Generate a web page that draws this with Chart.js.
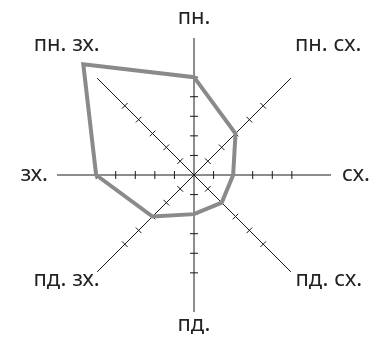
<!DOCTYPE html>
<html>
<head>
<meta charset="utf-8">
<script src="https://cdn.jsdelivr.net/npm/chart.js@4/dist/chart.umd.min.js"></script>
<style>
  html, body { margin: 0; padding: 0; background: #fff; }
  #wrap { width: 381px; height: 340px; }
</style>
</head>
<body>
<div id="wrap"><canvas id="windChart" width="381" height="340"></canvas></div>
<script>
// directions, clockwise from the top
const directions = ['пн.', 'пн. сх.', 'сх.', 'пд. сх.', 'пд.', 'пд. зх.', 'зх.', 'пн. зх.'];
const windValues = [5, 3, 2, 2, 2, 3, 5, 8];
const tickValues = [1, 2, 3, 4, 5];
const scaleMax = 7;

// label placement tweaks (padding and line height per direction)
const labelPad = [7, 5.8, 11, 6.5, 2.7, -3.5, 9, -3.5];
const labelLead = [26, 59.2, 26, 7.4, 20, 21.2, 26, 72.4];

const axisColor = '#1a1a1a';

// small cross ticks on every axis
const axisTicks = {
  id: 'axisTicks',
  beforeDatasetsDraw(chart) {
    const r = chart.scales.r;
    const ctx = chart.ctx;
    ctx.save();
    ctx.strokeStyle = axisColor;
    ctx.lineWidth = 1;
    directions.forEach((_, i) => {
      const a = r.getIndexAngle(i);
      const dx = Math.cos(a), dy = Math.sin(a);
      tickValues.forEach(v => {
        const p = r.getPointPositionForValue(i, v);
        ctx.beginPath();
        ctx.moveTo(p.x - dx * 4, p.y - dy * 4);
        ctx.lineTo(p.x + dx * 4, p.y + dy * 4);
        ctx.stroke();
      });
    });
    ctx.restore();
  }
};

const ctx = document.getElementById('windChart').getContext('2d');
const windChart = new Chart(ctx, {
  type: 'radar',
  data: {
    labels: directions,
    datasets: [{
      data: windValues,
      borderColor: '#8a8a8a',
      borderWidth: 4,
      borderJoinStyle: 'miter',
      backgroundColor: 'transparent',
      fill: false,
      pointRadius: 0,
      tension: 0,
      clip: false
    }]
  },
  options: {
    responsive: false,
    animation: false,
    layout: {
      autoPadding: false,
      padding: { left: 10, right: 0, top: 0, bottom: 0 }
    },
    plugins: {
      legend: { display: false },
      tooltip: { enabled: false }
    },
    scales: {
      r: {
        min: 0,
        max: scaleMax,
        grid: { display: false },
        angleLines: { display: true, color: axisColor, lineWidth: 1 },
        ticks: { display: false, stepSize: 1 },
        pointLabels: {
          display: true,
          color: '#222',
          padding: (c) => labelPad[c.index],
          font: (c) => ({ family: 'Noto Sans', size: 22, lineHeight: labelLead[c.index] + 'px' })
        }
      }
    }
  },
  plugins: [axisTicks]
});
</script>
</body>
</html>
